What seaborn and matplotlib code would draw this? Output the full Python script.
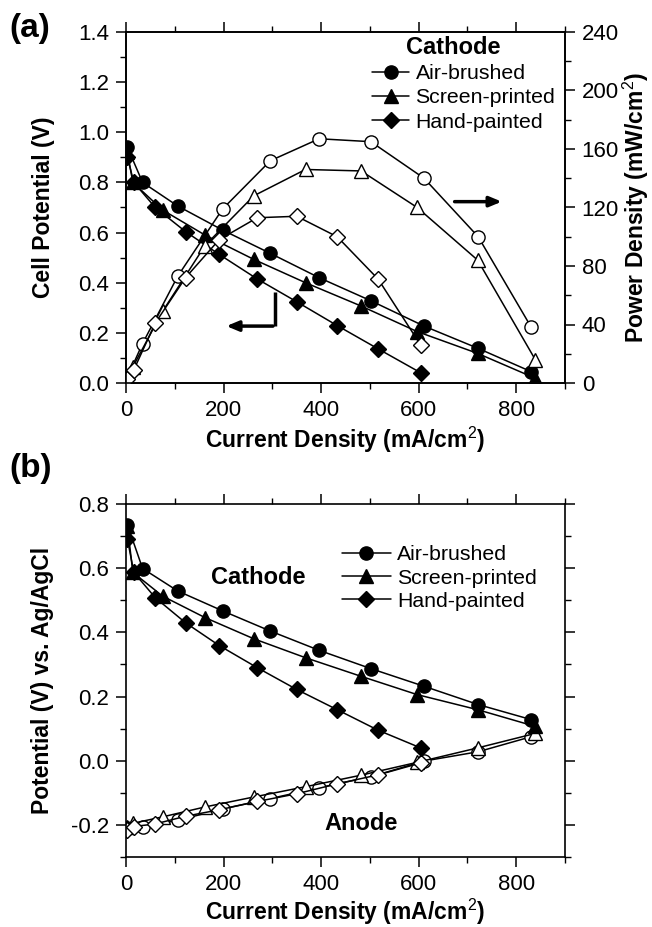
import matplotlib
matplotlib.use("Agg")
import matplotlib.pyplot as plt
import seaborn as sns
import pandas as pd
from matplotlib.lines import Line2D
from matplotlib.ticker import MultipleLocator, FormatStrFormatter

sns.set_theme(style="ticks")
plt.rcParams['font.family'] = ['Liberation Sans', 'DejaVu Sans']
plt.rcParams['mathtext.fontset'] = 'custom'
plt.rcParams['mathtext.rm'] = 'Liberation Sans'
plt.rcParams['mathtext.bf'] = 'Liberation Sans:bold'
for k in ('text.color', 'axes.labelcolor', 'xtick.color', 'ytick.color', 'axes.edgecolor'):
    plt.rcParams[k] = 'black'

series = ["Air-brushed", "Screen-printed", "Hand-painted"]
markers = ["o", "^", "D"]

# current densities (mA/cm2)
air_i = [3, 34, 106, 198, 296, 396, 502, 611, 722, 831]
scr_i = [3, 14, 75, 162, 262, 368, 482, 597, 721, 839]
hnd_i = [3, 16, 60, 122, 191, 269, 350, 433, 517, 604]

# (a) cell potential (V)
air_v = [0.94, 0.80, 0.706, 0.61, 0.517, 0.42, 0.328, 0.227, 0.138, 0.045]
scr_v = [0.92, 0.80, 0.69, 0.59, 0.493, 0.40, 0.307, 0.205, 0.118, 0.019]
hnd_v = [0.90, 0.80, 0.70, 0.604, 0.513, 0.415, 0.324, 0.229, 0.136, 0.041]

# (a) power density (mW/cm2)
air_p = [4, 27, 73, 119, 152, 167, 165, 140, 100, 38]
scr_p = [3, 11, 49, 94, 128, 146, 145, 120, 84, 16]
hnd_p = [3, 9, 41, 72, 98, 113, 114, 100, 71, 26]

# (b) cathode potential vs Ag/AgCl (V)
air_c = [0.735, 0.599, 0.529, 0.467, 0.404, 0.344, 0.287, 0.232, 0.175, 0.128]
scr_c = [0.73, 0.587, 0.513, 0.446, 0.38, 0.321, 0.263, 0.206, 0.159, 0.107]
hnd_c = [0.69, 0.587, 0.508, 0.43, 0.359, 0.29, 0.222, 0.159, 0.095, 0.04]

# (b) anode potential vs Ag/AgCl (V)
air_a = [-0.21, -0.206, -0.186, -0.150, -0.118, -0.084, -0.050, -0.001, 0.028, 0.075]
scr_a = [-0.205, -0.195, -0.175, -0.144, -0.113, -0.081, -0.045, -0.005, 0.04, 0.085]
hnd_a = [-0.216, -0.205, -0.197, -0.173, -0.153, -0.127, -0.103, -0.072, -0.044, -0.007]

currents = [air_i, scr_i, hnd_i]
volts = [air_v, scr_v, hnd_v]
powers = [air_p, scr_p, hnd_p]
cathodes = [air_c, scr_c, hnd_c]
anodes = [air_a, scr_a, hnd_a]

FW, FH = 652, 927
fig = plt.figure(figsize=(FW / 100, FH / 100), dpi=100)
L, W = 126 / FW, 439 / FW
ax1 = fig.add_axes([L, 1 - 383 / FH, W, 351 / FH])
ax3 = fig.add_axes([L, 1 - 857 / FH, W, 353 / FH])
ax2 = ax1.twinx()

msz = {"o": 9.5, "^": 9.5, "D": 8}


def draw(ax, x, y, m, filled):
    df = pd.DataFrame({"x": x, "y": y})
    sns.lineplot(data=df, x="x", y="y", ax=ax, color="black", lw=1.1,
                 marker=m, markersize=msz[m],
                 markerfacecolor="black" if filled else "white",
                 markeredgecolor="black", markeredgewidth=1.0,
                 sort=False, estimator=None, legend=False)


for i in range(3):
    draw(ax1, currents[i], volts[i], markers[i], True)
    draw(ax2, currents[i], powers[i], markers[i], False)
    draw(ax3, currents[i], anodes[i], markers[i], False)
    draw(ax3, currents[i], cathodes[i], markers[i], True)

tick_fs = 16
lab_fs = 16.5
leg_fs = 15.3

for ax in (ax1, ax3):
    ax.set_xlim(0, 900)
    ax.xaxis.set_major_locator(MultipleLocator(200))
    ax.xaxis.set_minor_locator(MultipleLocator(100))
    ax.set_xlabel("Current Density (mA/cm$^2$)", fontsize=lab_fs, fontweight="bold")
    for s in ax.spines.values():
        s.set_linewidth(1.2)
        s.set_color("black")

ax1.set_ylim(0, 1.4)
ax1.yaxis.set_major_locator(MultipleLocator(0.2))
ax1.yaxis.set_minor_locator(MultipleLocator(0.1))
ax1.yaxis.set_major_formatter(FormatStrFormatter('%.1f'))
ax1.set_ylabel("Cell Potential (V)", fontsize=lab_fs, fontweight="bold")

ax2.set_ylim(0, 240)
ax2.yaxis.set_major_locator(MultipleLocator(40))
ax2.yaxis.set_minor_locator(MultipleLocator(20))
ax2.set_ylabel("Power Density (mW/cm$^2$)", fontsize=lab_fs, fontweight="bold")
ax2.set_xlabel("")
for s in ax2.spines.values():
    s.set_linewidth(1.2)
    s.set_color("black")

ax3.set_ylim(-0.3, 0.8)
ax3.yaxis.set_major_locator(MultipleLocator(0.2))
ax3.yaxis.set_minor_locator(MultipleLocator(0.1))
ax3.yaxis.set_major_formatter(FormatStrFormatter('%.1f'))
ax3.set_ylabel("Potential (V) vs. Ag/AgCl", fontsize=lab_fs, fontweight="bold")

# label positions (axes coords)
ax1.yaxis.set_label_coords((44 - 126) / 439, 0.5)
ax3.yaxis.set_label_coords((43 - 126) / 439, 0.5)
ax2.yaxis.set_label_coords((636 - 126) / 439, 0.5)
ax1.xaxis.set_label_coords(0.5, (383 - 440) / 351)
ax3.xaxis.set_label_coords(0.5, (857 - 912) / 353)
ax1.xaxis.label.set_va("center")
ax3.xaxis.label.set_va("center")
for a in (ax1.yaxis.label, ax3.yaxis.label, ax2.yaxis.label):
    a.set_va("center")

for ax in (ax1, ax3):
    ax.tick_params(axis="both", which="major", direction="out", length=7, width=1.1,
                   labelsize=tick_fs, colors="black", pad=5, top=True, right=(ax is ax3))
    ax.tick_params(axis="both", which="minor", direction="out", length=4, width=1.0,
                   top=True, right=(ax is ax3))
ax2.tick_params(axis="y", which="major", direction="out", length=7, width=1.1,
                labelsize=tick_fs, colors="black", pad=5)
ax2.tick_params(axis="y", which="minor", direction="out", length=4, width=1.0)

# legends
handles = [Line2D([], [], color="black", lw=1.1, marker=m, markersize=msz[m],
                  markerfacecolor="black", markeredgecolor="black") for m in markers]
ax2.legend(handles, series, frameon=False, fontsize=leg_fs,
           loc="center left", bbox_to_anchor=((372 - 126) / 439, (383 - 98) / 351),
           handlelength=1.75, handletextpad=0.3, labelspacing=0.25,
           borderpad=0, borderaxespad=0)
ax3.legend(handles, series, frameon=False, fontsize=leg_fs,
           loc="center left", bbox_to_anchor=((342 - 126) / 439, (857 - 578) / 353),
           handlelength=2.3, handletextpad=0.3, labelspacing=0.2,
           borderpad=0, borderaxespad=0)

fig.text(453 / FW, 1 - 47 / FH, "Cathode", fontsize=17, fontweight="bold", ha="center", va="center")
fig.text(258 / FW, 1 - 577 / FH, "Cathode", fontsize=17, fontweight="bold", ha="center", va="center")
fig.text(361 / FW, 1 - 823 / FH, "Anode", fontsize=17, fontweight="bold", ha="center", va="center")

# arrows (a)
ax2.annotate("", xy=(776, 124), xytext=(668, 124),
             arrowprops=dict(arrowstyle="-|>,head_length=0.6,head_width=0.25", lw=2.5, color="black"))
ax1.plot([305, 305], [0.363, 0.227], color="black", lw=2.5, solid_capstyle="butt")
ax1.annotate("", xy=(200, 0.227), xytext=(307, 0.227),
             arrowprops=dict(arrowstyle="-|>,head_length=0.6,head_width=0.25", lw=2.5, color="black"))

fig.text(9 / FW, 1 - 28 / FH, "(a)", fontsize=24, fontweight="bold", va="center", ha="left")
fig.text(9 / FW, 1 - 468 / FH, "(b)", fontsize=24, fontweight="bold", va="center", ha="left")

fig.savefig("out.png", dpi=100)
